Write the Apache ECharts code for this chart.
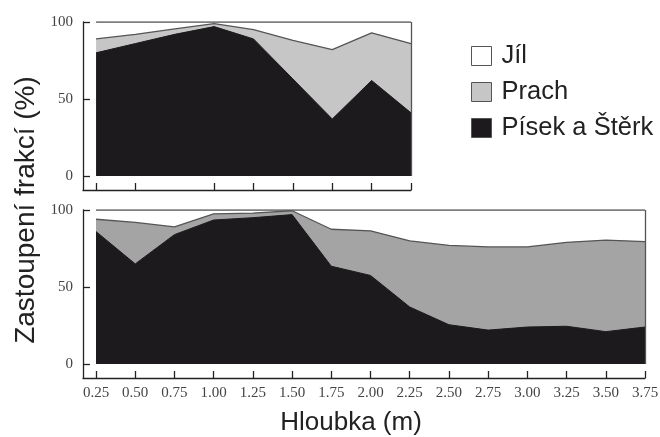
<!DOCTYPE html>
<html>
<head>
<meta charset="utf-8">
<script src="https://cdn.jsdelivr.net/npm/echarts@6/dist/echarts.min.js"></script>
<style>
  html, body { margin: 0; padding: 0; background: #fff; }
  #chart { width: 660px; height: 437px; }
</style>
</head>
<body>
<div id="chart"></div>
<script>
// hloubky (m)
var depthsTop = [0.25, 0.5, 0.75, 1.0, 1.25, 1.5, 1.75, 2.0, 2.25]
var depthsBottom = [0.25, 0.5, 0.75, 1.0, 1.25, 1.5, 1.75, 2.0, 2.25, 2.5, 2.75, 3.0, 3.25, 3.5, 3.75]

// horni profil (%)
var pisekTop = [80, 86, 92, 97, 89, 63, 37, 62, 41]
var prachTop = [9, 6, 3.5, 2, 6, 25, 45, 31, 45]
var jilTop = [11, 8, 4.5, 1, 5, 12, 18, 7, 14]

// dolni profil (%)
var pisekBottom = [86, 65, 84, 93.5, 95, 97, 63.5, 57.5, 37, 25.5, 22, 24, 24.5, 21, 24]
var prachBottom = [8, 27, 5, 4, 3, 2.5, 24, 29, 43, 51.5, 54, 52, 54.5, 59.5, 55.5]
var jilBottom = [6, 8, 11, 2.5, 2, 0.5, 12.5, 13.5, 20, 23, 24, 24, 21, 19.5, 20.5]

// ticky
var xTicksTop = [0.25, 0.5, 1.0, 1.25, 1.5, 1.75, 2.0, 2.25]
var xTicksBottom = [0.25, 0.5, 0.75, 1.0, 1.25, 1.5, 1.75, 2.0, 2.25, 2.5, 2.75, 3.0, 3.25, 3.5, 3.75]
var yTicks = [0, 50, 100]

var names = ['Jíl', 'Prach', 'Písek a Štěrk']
var black = '#1c1a1c'
var grayTop = '#c6c6c6'
var grayBottom = '#a4a4a4'
var edge = '#555'

// skladani vrstev (stack) rucne - u dvou hodnotovych os by echarts skladal podle x
function addUp(a, b) {
  return a.map(function (v, i) { return v + b[i] })
}
function pairs(xs, ys) {
  return xs.map(function (x, i) { return [x, ys[i]] })
}

function xAxisFor(idx, max, ticks, showLabels) {
  return {
    type: 'value',
    gridIndex: idx,
    min: 0.167,
    max: max,
    splitLine: { show: false },
    axisLine: { show: true, onZero: false, lineStyle: { color: '#222', width: 1.3 } },
    axisTick: { show: true, inside: true, length: 7, customValues: ticks, lineStyle: { color: '#222', width: 1.3 } },
    axisLabel: {
      show: showLabels,
      customValues: ticks,
      formatter: function (v) { return v.toFixed(2) },
      fontFamily: 'Liberation Serif',
      fontSize: 15,
      color: '#444',
      margin: 8
    },
    name: showLabels ? 'Hloubka (m)' : '',
    nameLocation: 'middle',
    nameGap: 32,
    nameTextStyle: { fontFamily: 'Liberation Sans', fontSize: 26, color: '#222', padding: [0, 26, 0, 0] }
  }
}

function yAxisFor(idx) {
  return {
    type: 'value',
    gridIndex: idx,
    min: -9.1,
    max: 100,
    splitLine: { show: false },
    axisLine: { show: true, onZero: false, lineStyle: { color: '#222', width: 1.3 } },
    axisTick: { show: true, inside: true, length: 7, customValues: yTicks, lineStyle: { color: '#222', width: 1.3 } },
    axisLabel: {
      customValues: yTicks,
      fontFamily: 'Liberation Serif',
      fontSize: 15,
      color: '#444',
      margin: 10
    }
  }
}

function seriesFor(idx, xs, pisek, prach, jil, gray) {
  var topPrach = addUp(pisek, prach)
  var topJil = addUp(topPrach, jil)
  var common = {
    type: 'line',
    xAxisIndex: idx,
    yAxisIndex: idx,
    showSymbol: false,
    symbol: 'none',
    silent: true
  }
  return [
    Object.assign({}, common, {
      name: names[0],
      data: pairs(xs, topJil),
      lineStyle: { color: edge, width: 1.3 },
      itemStyle: { color: '#fff' },
      areaStyle: { color: '#fff', opacity: 1 }
    }),
    Object.assign({}, common, {
      name: names[1],
      data: pairs(xs, topPrach),
      lineStyle: { color: edge, width: 1.3 },
      itemStyle: { color: gray },
      areaStyle: { color: gray, opacity: 1 }
    }),
    Object.assign({}, common, {
      name: names[2],
      data: pairs(xs, pisek),
      lineStyle: { color: black, width: 1 },
      itemStyle: { color: black },
      areaStyle: { color: black, opacity: 1 },
      markLine: {
        silent: true,
        symbol: 'none',
        label: { show: false },
        lineStyle: { color: edge, width: 1.3, type: 'solid' },
        data: [[{ coord: [xs[xs.length - 1], 0] }, { coord: [xs[xs.length - 1], 100] }]]
      }
    })
  ]
}

var chart = echarts.init(document.getElementById('chart'))
chart.setOption({
  animation: false,
  backgroundColor: '#fff',
  grid: [
    { left: 83, top: 22, width: 328, height: 168, outerBoundsMode: 'none', containLabel: false },
    { left: 83, top: 210, width: 562, height: 168, outerBoundsMode: 'none', containLabel: false }
  ],
  xAxis: [
    xAxisFor(0, 2.25, xTicksTop, false),
    xAxisFor(1, 3.75, xTicksBottom, true)
  ],
  yAxis: [yAxisFor(0), yAxisFor(1)],
  legend: {
    orient: 'vertical',
    left: 466,
    top: 38,
    itemWidth: 20,
    itemHeight: 19,
    itemGap: 10,
    icon: 'rect',
    textStyle: { fontFamily: 'Liberation Sans', fontSize: 25.5, color: '#222', padding: [0, 0, 0, 5] },
    data: [
      { name: names[0], itemStyle: { color: '#fff', borderColor: edge, borderWidth: 1 } },
      { name: names[1], itemStyle: { color: grayTop, borderColor: edge, borderWidth: 1 } },
      { name: names[2], itemStyle: { color: black, borderColor: edge, borderWidth: 1 } }
    ]
  },
  graphic: [{
    type: 'text',
    x: 26,
    y: 210,
    rotation: Math.PI / 2,
    style: {
      text: 'Zastoupení frakcí (%)',
      font: '28px "Liberation Sans"',
      fill: '#222',
      textAlign: 'center',
      textVerticalAlign: 'middle'
    }
  }],
  series: seriesFor(0, depthsTop, pisekTop, prachTop, jilTop, grayTop)
    .concat(seriesFor(1, depthsBottom, pisekBottom, prachBottom, jilBottom, grayBottom))
})
</script>
</body>
</html>
